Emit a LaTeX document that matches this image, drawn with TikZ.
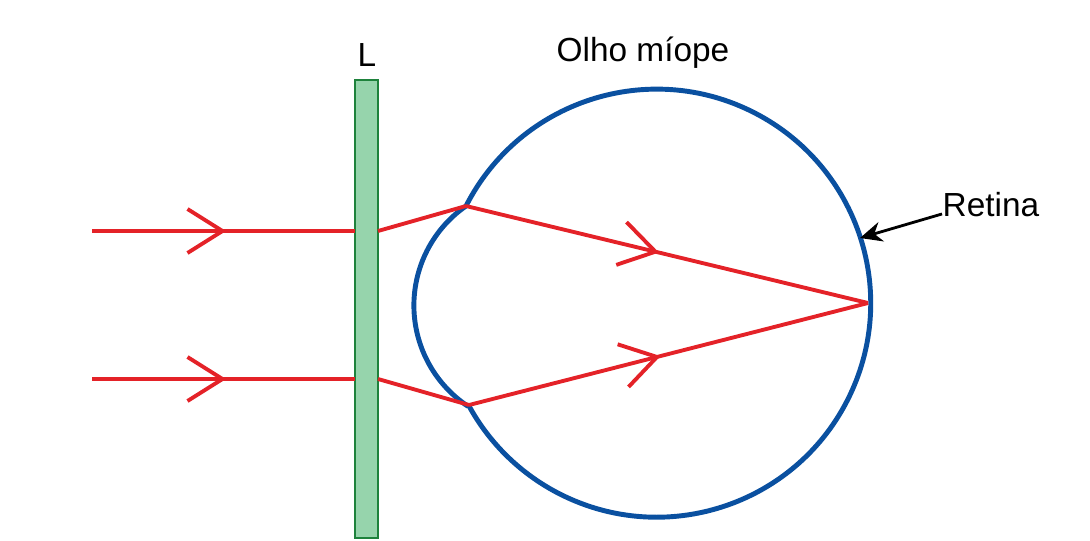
\documentclass[tikz,border=0pt]{standalone}
\usepackage{fontspec}
\setmainfont{Liberation Sans}
\usetikzlibrary{arrows.meta,decorations.markings}
\definecolor{rayred}{RGB}{228,34,40}
\definecolor{eyeblue}{RGB}{10,80,160}
\definecolor{lensfill}{RGB}{150,212,172}
\definecolor{lensdraw}{RGB}{30,130,60}
\begin{document}
\begin{tikzpicture}[x=1mm,y=-1mm,
  ray/.style={rayred,line width=1.1pt},
  mark/.style={ray,postaction={decorate},decoration={markings,
    mark=at position #1 with {\arrow[rayred,line width=1.1pt]{Straight Barb[length=3.5mm,width=4.4mm]}}}},
  lbl/.style={font=\fontsize{9.5}{11}\selectfont,inner sep=0pt}]
  \useasboundingbox (0,0) rectangle (109,54);

  % lens and eye
  \node[draw=lensdraw,fill=lensfill,line width=0.8pt,minimum width=2.3mm,minimum height=45.8mm,inner sep=0pt] (lens) at (36.65,30.9) {};
  \node[lbl] (L) at (36.7,5.5) {L};
  \node[lbl] (olho) at (64.3,5.3) {Olho míope};
  \coordinate (ctop) at (46.6,20.6);
  \coordinate (cbot) at (46.9,40.5);
  \draw[eyeblue,line width=1.4pt] (ctop) arc[start angle=-153,end angle=151.5,radius=21.4];
  \draw[eyeblue,line width=1.4pt] (ctop) arc[start angle=235.3,end angle=123.6,radius=12.1];

  % rays
  \coordinate (a1) at (9.2,23.1);
  \coordinate (a2) at (9.2,37.9);
  \coordinate (b1) at (35.5,23.1);
  \coordinate (b2) at (35.5,37.9);
  \coordinate (c1) at (37.8,23.1);
  \coordinate (c2) at (37.8,37.9);
  \coordinate (f) at (86.8,30.3);
  \draw[mark=0.51] (a1) -- (b1);
  \draw[mark=0.51] (a2) -- (b2);
  \draw[ray] (c1) -- (ctop);
  \draw[ray] (c2) -- (cbot);
  \draw[mark=0.48] (ctop) -- (f);
  \draw[mark=0.48] (cbot) -- (f);

  % retina label
  \node[lbl,anchor=west] (retina) at (94.2,20.5) {Retina};
  \coordinate (rt) at (86,23.8);
  \draw[-{Stealth[length=2.2mm,width=2mm]},line width=0.8pt] (retina.south west) ++(0,-0.4) -- (rt);
\end{tikzpicture}
\end{document}
